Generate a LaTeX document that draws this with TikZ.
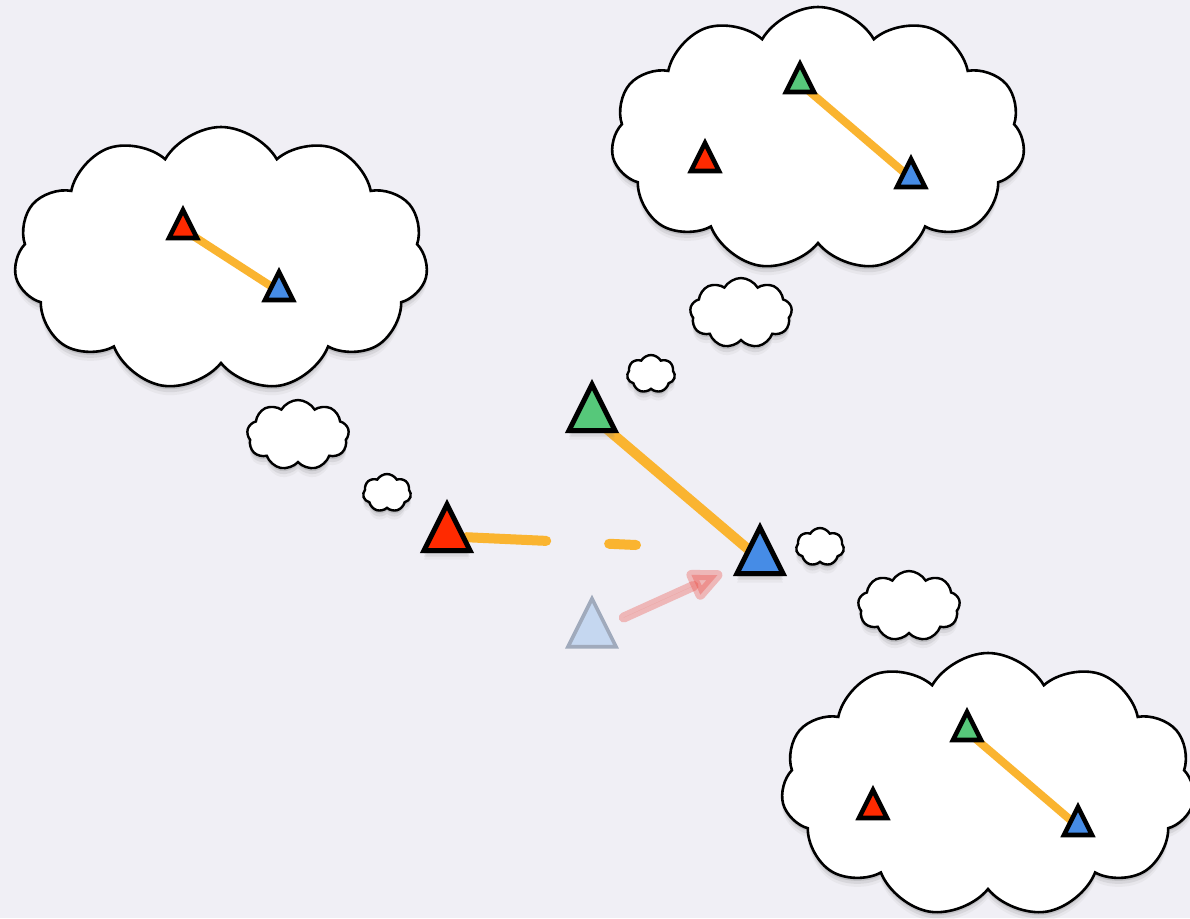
\documentclass[tikz,border=0pt]{standalone}
\usetikzlibrary{shapes.symbols,shapes.geometric,shadows,arrows.meta}

\definecolor{paper}{RGB}{240,239,245}
\definecolor{trigreen}{RGB}{86,200,122}
\definecolor{trired}{RGB}{255,42,0}
\definecolor{triblue}{RGB}{70,140,230}
\definecolor{linkorange}{RGB}{250,180,48}
\definecolor{ghostfill}{RGB}{197,215,240}
\definecolor{ghostdraw}{RGB}{160,170,188}
\definecolor{pushred}{RGB}{235,70,60}

\pgfdeclarelayer{back}
\pgfdeclarelayer{links}
\pgfsetlayers{back,links,main}

\tikzset{
  softshadow/.style={
    drop shadow={shadow xshift=0pt, shadow yshift=-1.5pt, opacity=0.25},
    drop shadow={shadow xshift=0pt, shadow yshift=-3pt, opacity=0.15},
    drop shadow={shadow xshift=0pt, shadow yshift=-4.5pt, opacity=0.08}},
  bigcloud/.style={cloud, cloud puffs=11, cloud puff arc=120, draw=black, line width=1.3pt,
    fill=white, minimum width=207pt, minimum height=132pt, softshadow},
  puffcloud/.style={cloud, cloud puffs=9, cloud puff arc=120, draw=black, line width=1.2pt,
    fill=white, minimum width=51pt, minimum height=35pt, softshadow},
  tinycloud/.style={puffcloud, cloud puffs=7, minimum width=24pt, minimum height=19pt},
  bigtri/.style={isosceles triangle, shape border rotate=90, isosceles triangle stretches,
    minimum width=23pt, minimum height=23pt, inner sep=0pt, anchor=apex,
    draw=black, line width=2.5pt, softshadow},
  smalltri/.style={isosceles triangle, shape border rotate=90, isosceles triangle stretches,
    minimum width=14pt, minimum height=14pt, inner sep=0pt, anchor=apex,
    draw=black, line width=2.3pt},
  link/.style={draw=linkorange, line width=5pt},
  smalllink/.style={draw=linkorange, line width=4pt},
  push/.style={draw=pushred, fill=pushred, line width=5pt, opacity=0.33, line cap=round,
    -{Triangle[length=21pt, width=17pt, line join=round]}, shorten <=9pt}
}

\begin{document}
\begin{tikzpicture}[x=0.5pt, y=-0.5pt]
  \useasboundingbox (0,0) rectangle (1190,918);

  % paper and clouds
  \begin{pgfonlayer}{back}
    \fill[paper] (0,0) rectangle (1190,918);
    \node[bigcloud] (cloudL) at (221,259) {};
    \node[bigcloud] (cloudTR) at (818,139) {};
    \node[bigcloud] (cloudBR) at (988,785) {};
    \node[puffcloud] (puffA) at (298,435) {};
    \node[tinycloud] (puffB) at (387,493) {};
    \node[puffcloud] (puffC) at (741,313) {};
    \node[tinycloud] (puffD) at (651,374) {};
    \node[tinycloud] (puffE) at (820,547) {};
    \node[puffcloud] (puffF) at (909,606) {};
  \end{pgfonlayer}

  % triangles in the middle
  \node[bigtri, fill=trigreen] (green) at (592,378) {};
  \node[bigtri, fill=trired] (red) at (447,498) {};
  \node[bigtri, fill=triblue] (blue) at (760,521) {};
  \node[isosceles triangle, shape border rotate=90, isosceles triangle stretches,
    minimum width=24pt, minimum height=24pt, inner sep=0pt, anchor=apex,
    draw=ghostdraw, fill=ghostfill, line width=1.8pt] (ghost) at (592,594) {};
  \coordinate (gap) at (636,545);
  \coordinate (tip) at (722,573);

  % triangles in the clouds
  \node[smalltri, fill=trired] (lRed) at (183,204) {};
  \node[smalltri, fill=triblue] (lBlue) at (279,266) {};
  \node[smalltri, fill=trigreen] (trGreen) at (800,58) {};
  \node[smalltri, fill=trired] (trRed) at (705,137) {};
  \node[smalltri, fill=triblue] (trBlue) at (911,153) {};
  \node[smalltri, fill=trigreen] (brGreen) at (967,706) {};
  \node[smalltri, fill=trired] (brRed) at (873,784) {};
  \node[smalltri, fill=triblue] (brBlue) at (1078,801) {};

  % links
  \begin{pgfonlayer}{links}
    \draw[link] (green.center) -- (blue.center);
    \draw[link, line cap=round, dash pattern=on 40pt off 31.5pt] (red) -- (gap);
    \draw[smalllink] (lRed.center) -- (lBlue.center);
    \draw[smalllink] (trGreen.center) -- (trBlue.center);
    \draw[smalllink] (brGreen.center) -- (brBlue.center);
  \end{pgfonlayer}
  \draw[push] (ghost) -- (tip);
\end{tikzpicture}
\end{document}
